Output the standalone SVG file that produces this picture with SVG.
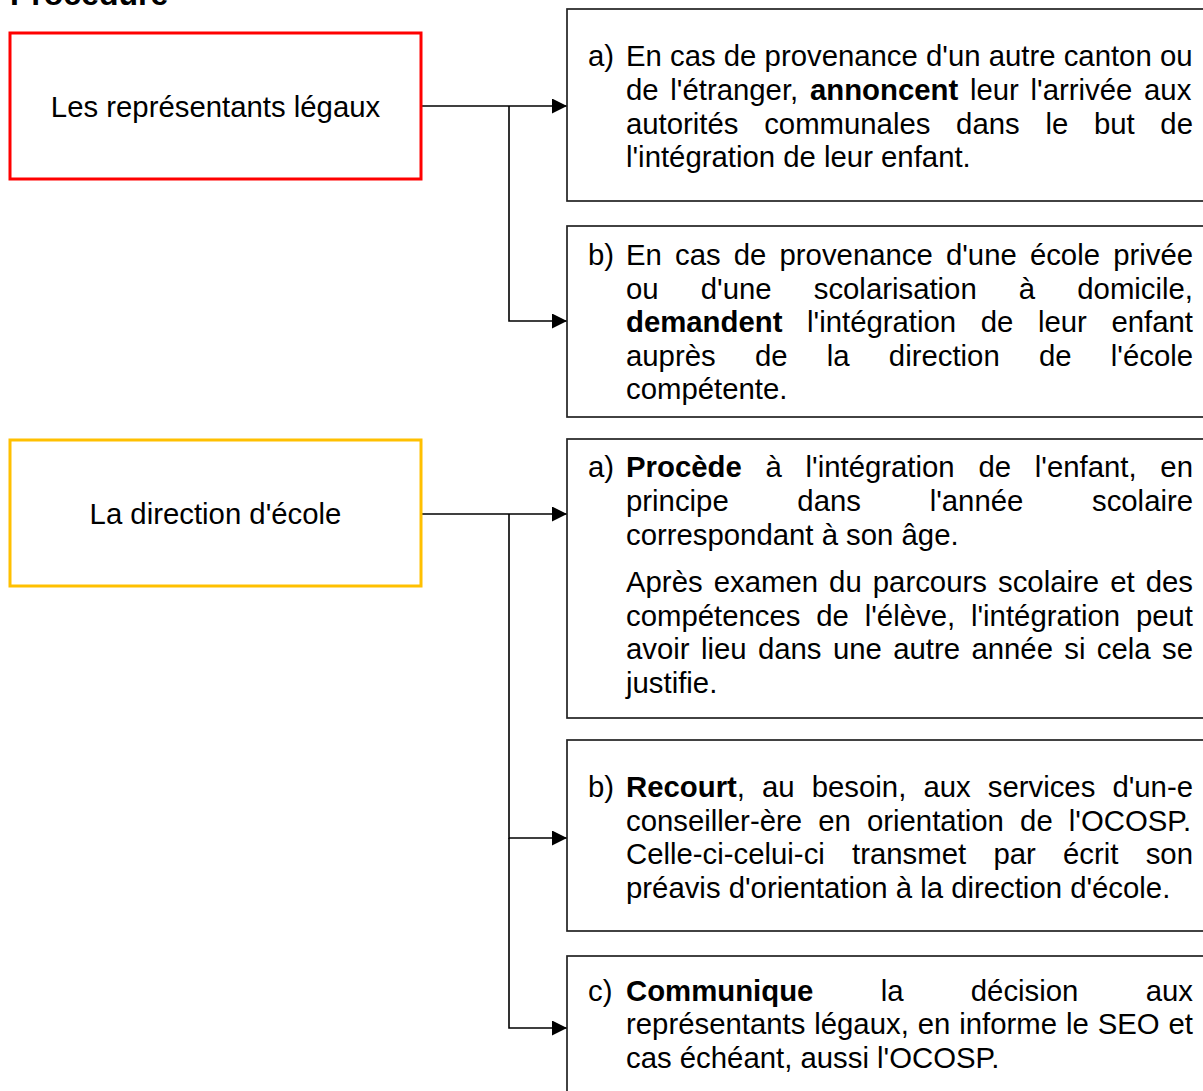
<svg xmlns="http://www.w3.org/2000/svg" width="1203" height="1091" viewBox="0 0 1203 1091">
<defs>
<style>
text{font-family:"Liberation Sans",Arial,sans-serif;font-size:29.33px;fill:#000}
.title{font-weight:bold;font-size:32px}
.b{font-weight:bold}
.mid{text-anchor:middle}
.box{fill:#fff;stroke:#222;stroke-width:1.7}
.red{fill:#fff;stroke:#ff0000;stroke-width:3}
.yel{fill:#fff;stroke:#ffc000;stroke-width:3}
.con{fill:none;stroke:#000;stroke-width:1.6;marker-end:url(#arr)}
</style>
<marker id="arr" markerUnits="userSpaceOnUse" markerWidth="16" markerHeight="16" refX="15" refY="7.5" orient="auto">
<path d="M0,0 L15,7.5 L0,15 z" fill="#000"/>
</marker>
</defs>
<rect width="1203" height="1091" fill="#fff"/>
<text class="title" x="10" y="5">Procédure</text>

<g id="connectors">
<path class="con" d="M421,106 H567"/>
<path class="con" d="M509,106 V321 H567"/>
<path class="con" d="M421,514 H567"/>
<path class="con" d="M509,514 V838 H567"/>
<path class="con" d="M509,838 V1028 H567"/>
</g>

<g id="representants">
<rect class="red" x="10" y="33" width="411" height="146"/>
<text class="mid" x="215.5" y="117">Les représentants légaux</text>
</g>

<g id="direction">
<rect class="yel" x="10" y="440" width="411" height="146"/>
<text class="mid" x="215.5" y="524">La direction d'école</text>
</g>

<g id="rep-a">
<rect class="box" x="567" y="9" width="650" height="192"/>
<text x="588" y="66">a)</text>
<text x="626" y="66">En cas de provenance d'un autre canton ou</text>
<text x="626" y="100" word-spacing="3.57">de l'étranger, <tspan class="b">annoncent</tspan> leur l'arrivée aux</text>
<text x="626" y="133.5" word-spacing="17.53">autorités communales dans le but de</text>
<text x="626" y="167">l'intégration de leur enfant.</text>
</g>

<g id="rep-b">
<rect class="box" x="567" y="226" width="650" height="191"/>
<text x="588" y="265">b)</text>
<text x="626" y="265" word-spacing="4.98">En cas de provenance d'une école privée</text>
<text x="626" y="299" word-spacing="33.98">ou d'une scolarisation à domicile,</text>
<text x="626" y="332" word-spacing="16.45"><tspan class="b">demandent</tspan> l'intégration de leur enfant</text>
<text x="626" y="366" word-spacing="31.09">auprès de la direction de l'école</text>
<text x="626" y="399">compétente.</text>
</g>

<g id="dir-a">
<rect class="box" x="567" y="439" width="650" height="279"/>
<text x="588" y="477">a)</text>
<text x="626" y="477" word-spacing="15.61"><tspan class="b">Procède</tspan> à l'intégration de l'enfant, en</text>
<text x="626" y="511" word-spacing="60.52">principe dans l'année scolaire</text>
<text x="626" y="545">correspondant à son âge.</text>
<text x="626" y="592" word-spacing="2.93">Après examen du parcours scolaire et des</text>
<text x="626" y="626" word-spacing="7.7">compétences de l'élève, l'intégration peut</text>
<text x="626" y="659" word-spacing="3.21">avoir lieu dans une autre année si cela se</text>
<text x="626" y="693">justifie.</text>
</g>

<g id="dir-b">
<rect class="box" x="567" y="740" width="650" height="191"/>
<text x="588" y="797">b)</text>
<text x="626" y="797" word-spacing="8.93"><tspan class="b">Recourt</tspan>, au besoin, aux services d'un-e</text>
<text x="626" y="831" word-spacing="8.0">conseiller-ère en orientation de l'OCOSP.</text>
<text x="626" y="864" word-spacing="19.1">Celle-ci-celui-ci transmet par écrit son</text>
<text x="626" y="898">préavis d'orientation à la direction d'école.</text>
</g>

<g id="dir-c">
<rect class="box" x="567" y="956" width="650" height="160"/>
<text x="588" y="1001">c)</text>
<text x="626" y="1001" word-spacing="59.15"><tspan class="b">Communique</tspan> la décision aux</text>
<text x="626" y="1034" word-spacing="0.75">représentants légaux, en informe le SEO et</text>
<text x="626" y="1068">cas échéant, aussi l'OCOSP.</text>
</g>
</svg>
